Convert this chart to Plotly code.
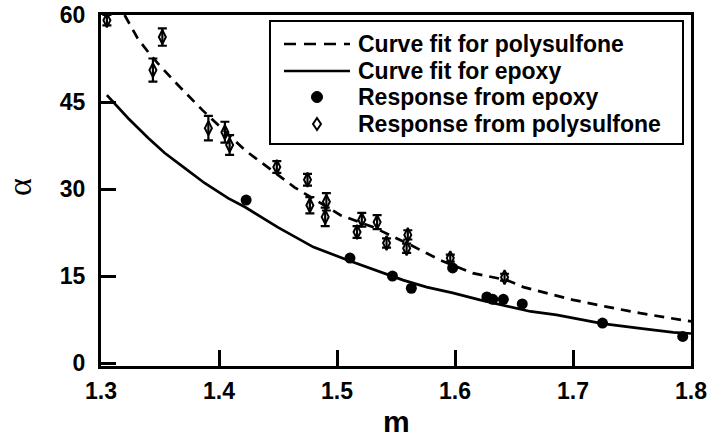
import plotly.graph_objects as go

# Curve fit for polysulfone (dashed)
fit_poly_m = [1.320, 1.331, 1.340, 1.348, 1.363, 1.380, 1.386, 1.422, 1.442, 1.464,
              1.503, 1.531, 1.559, 1.587, 1.615, 1.644, 1.658, 1.700, 1.729, 1.757, 1.793, 1.800]
fit_poly_a = [60.0, 56.0, 53.6, 51.7, 48.4, 44.8, 43.6, 36.7, 33.6, 30.3,
              25.5, 23.4, 20.7, 17.8, 15.5, 14.3, 13.1, 10.9, 9.7, 8.6, 7.4, 7.2]

# Curve fit for epoxy (solid)
fit_epoxy_m = [1.305, 1.323, 1.340, 1.354, 1.371, 1.388, 1.408, 1.422, 1.450, 1.480,
               1.511, 1.536, 1.556, 1.576, 1.598, 1.621, 1.644, 1.664, 1.686, 1.725,
               1.757, 1.785, 1.800]
fit_epoxy_a = [46.2, 42.2, 38.8, 36.2, 33.6, 31.0, 28.4, 26.9, 23.4, 20.0,
               17.6, 15.7, 14.3, 13.1, 12.1, 10.9, 9.8, 8.9, 8.3, 6.8,
               6.0, 5.3, 5.1]

# Response from epoxy
epoxy_m = [1.423, 1.511, 1.547, 1.563, 1.598, 1.627, 1.632, 1.641, 1.657, 1.725, 1.793]
epoxy_a = [28.1, 18.1, 15.0, 12.9, 16.4, 11.4, 11.0, 11.0, 10.2, 6.9, 4.6]

# Response from polysulfone (with error bars)
poly_m = [1.305, 1.344, 1.352, 1.391, 1.405, 1.409, 1.449, 1.475, 1.477, 1.491,
          1.490, 1.517, 1.521, 1.534, 1.542, 1.559, 1.560, 1.596, 1.642]
poly_a = [59.1, 50.5, 56.2, 40.5, 39.8, 37.6, 33.8, 31.6, 27.2, 27.8,
          25.2, 22.6, 24.7, 24.3, 20.7, 19.8, 22.1, 18.1, 14.8]
poly_err = [0.9, 2.0, 1.5, 2.1, 1.8, 1.7, 1.0, 1.0, 1.4, 1.5,
            1.6, 1.0, 1.2, 1.2, 0.8, 0.8, 0.8, 0.6, 0.6]

x_ticks = [1.3, 1.4, 1.5, 1.6, 1.7, 1.8]
y_ticks = [0, 15, 30, 45, 60]

legend_labels = ["Curve fit for polysulfone", "Curve fit for epoxy",
                 "Response from epoxy", "Response from polysulfone"]

FONT = "Liberation Sans"
W, H = 708, 437
ML, MR, MT, MB = 101, 17, 15, 71


def px(xp):
    return (xp - ML) / (W - ML - MR)


def py(yp):
    return (H - MB - yp) / (H - MT - MB)


fig = go.Figure()
fig.add_trace(go.Scatter(x=fit_poly_m, y=fit_poly_a, mode="lines",
                         name=legend_labels[0], showlegend=False,
                         line=dict(color="black", width=2.7, dash="10px,7px")))
fig.add_trace(go.Scatter(x=fit_epoxy_m, y=fit_epoxy_a, mode="lines",
                         name=legend_labels[1], showlegend=False,
                         line=dict(color="black", width=2.7)))
fig.add_trace(go.Scatter(x=epoxy_m, y=epoxy_a, mode="markers",
                         name=legend_labels[2], showlegend=False,
                         marker=dict(symbol="circle", size=11, color="black")))
fig.add_trace(go.Scatter(x=poly_m, y=poly_a, mode="markers",
                         name=legend_labels[3], showlegend=False, cliponaxis=True,
                         marker=dict(symbol="diamond-tall-open", size=10, color="black",
                                     line=dict(width=2, color="black")),
                         error_y=dict(type="data", array=poly_err, visible=True,
                                      color="black", thickness=2.2, width=4.5)))

# Manual legend (box, samples, labels)
shapes = [dict(type="rect", xref="paper", yref="paper",
               x0=px(270), x1=px(683), y0=py(144), y1=py(21),
               line=dict(color="black", width=2), fillcolor="white", layer="above")]
rows = [44, 71, 97, 124]
shapes.append(dict(type="line", xref="paper", yref="paper", x0=px(284), x1=px(350),
                   y0=py(rows[0]), y1=py(rows[0]),
                   line=dict(color="black", width=2.5, dash="12px,8px"), layer="above"))
shapes.append(dict(type="line", xref="paper", yref="paper", x0=px(284), x1=px(350),
                   y0=py(rows[1]), y1=py(rows[1]),
                   line=dict(color="black", width=2.5), layer="above"))
shapes.append(dict(type="circle", xref="paper", yref="paper",
                   x0=px(311.5), x1=px(322.5), y0=py(rows[2] + 5.5), y1=py(rows[2] - 5.5),
                   line=dict(color="black", width=1), fillcolor="black", layer="above"))
cx, cy = 317, rows[3]
dpath = (f"M {px(cx)},{py(cy - 6)} L {px(cx + 4)},{py(cy)} "
         f"L {px(cx)},{py(cy + 6)} L {px(cx - 4)},{py(cy)} Z")
shapes.append(dict(type="path", xref="paper", yref="paper", path=dpath,
                   line=dict(color="black", width=2), layer="above"))

annotations = []
for lab, r in zip(legend_labels, rows):
    annotations.append(dict(text=f"<b>{lab}</b>", xref="paper", yref="paper", x=px(356), y=py(r),
                            xanchor="left", yanchor="middle", showarrow=False,
                            font=dict(family=FONT, size=23, color="black")))
annotations.append(dict(text="<b>m</b>", xref="paper", yref="paper", x=px(396), y=py(421),
                        xanchor="center", yanchor="middle", showarrow=False,
                        font=dict(family=FONT, size=30, color="black")))
annotations.append(dict(text="α", xref="paper", yref="paper", x=px(19), y=py(187),
                        xanchor="center", yanchor="middle", showarrow=False, textangle=-90,
                        font=dict(family="Liberation Serif", size=34, color="black")))

fig.update_layout(
    width=W, height=H,
    margin=dict(l=ML, r=MR, t=MT, b=MB),
    paper_bgcolor="white", plot_bgcolor="white",
    font=dict(family=FONT, size=22, color="black"),
    showlegend=False,
    shapes=shapes,
    annotations=annotations,
)
fig.update_xaxes(range=[1.3, 1.8], tickvals=x_ticks, ticktext=[f"<b>{v:.1f}</b>" for v in x_ticks],
                 ticks="inside", ticklen=16, tickwidth=3, tickcolor="black",
                 showline=True, linewidth=3, linecolor="black", mirror=True,
                 showgrid=False, zeroline=False, automargin=False, ticklabelstandoff=2,
                 tickfont=dict(family=FONT, size=23))
fig.update_yaxes(range=[-0.5, 60], tickvals=y_ticks, ticktext=[f"<b>{v}</b>" for v in y_ticks],
                 ticks="inside", ticklen=15, tickwidth=3, tickcolor="black",
                 showline=True, linewidth=3, linecolor="black", mirror=True,
                 showgrid=False, zeroline=False, automargin=False, ticklabelstandoff=8,
                 tickfont=dict(family=FONT, size=23))

fig.write_html("out.html")
